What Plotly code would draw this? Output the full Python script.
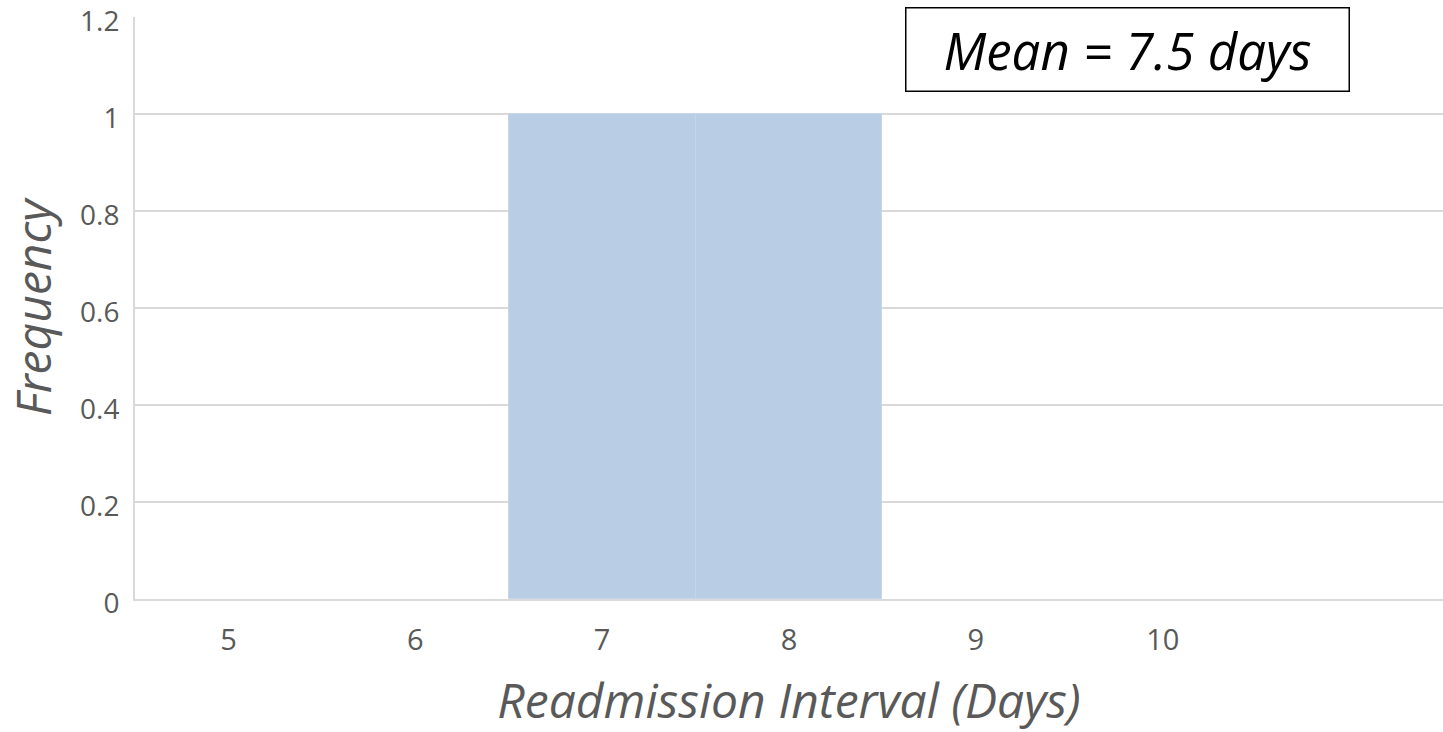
import plotly.graph_objects as go

days = [5, 6, 7, 8, 9, 10, 11]
frequency = [0, 0, 1, 1, 0, 0, 0]
tick_vals = [5, 6, 7, 8, 9, 10]
tick_text = ["5", "6", "7", "8", "9", "10"]
y_ticks = [0, 0.2, 0.4, 0.6, 0.8, 1, 1.2]
y_text = ["0", "0.2", "0.4", "0.6", "0.8", "1", "1.2"]

line_widths = [1 if f > 0 else 0 for f in frequency]

fig = go.Figure(go.Bar(
    x=days, y=frequency,
    marker=dict(color="#B9CDE5", line=dict(color="#C5D6EA", width=line_widths)),
    hoverinfo="x+y",
))

fig.update_layout(
    width=1443, height=732,
    margin=dict(l=135, r=0, t=17, b=133),
    plot_bgcolor="white", paper_bgcolor="white",
    bargap=0,
    showlegend=False,
    font=dict(family="Open Sans", color="#595959"),
    xaxis=dict(
        range=[4.5, 11.5], tickvals=tick_vals, ticktext=tick_text,
        tickfont=dict(size=29, color="#595959"),
        showgrid=False, showline=True, linecolor="#D9D9D9", linewidth=2,
        ticks="", ticklabelstandoff=14, zeroline=False, automargin=False,
        title=dict(text="<i>Readmission Interval (Days)</i>",
                   font=dict(size=48, color="#595959"), standoff=30),
    ),
    yaxis=dict(
        range=[0, 1.2], tickvals=y_ticks, ticktext=y_text,
        tickfont=dict(size=28, color="#595959"),
        showgrid=True, gridcolor="#D9D9D9", gridwidth=1.5,
        showline=True, linecolor="#D9D9D9", linewidth=2,
        ticks="", ticklabelstandoff=8, ticklabelshift=4, zeroline=False,
        ticklabeloverflow="allow", automargin=False,
        title=dict(text="<i>Frequency</i>", font=dict(size=48, color="#595959"),
                   standoff=20),
    ),
    annotations=[dict(
        text="<i>Mean = 7.5 days</i>", xref="paper", yref="paper",
        x=0.7588, y=0.945, xanchor="center", yanchor="middle",
        showarrow=False, font=dict(family="Open Sans", size=51, color="black"),
        bordercolor="black", borderwidth=1.5, bgcolor="white",
        width=440, height=80, borderpad=1,
    )],
)

fig.write_html("out.html")
